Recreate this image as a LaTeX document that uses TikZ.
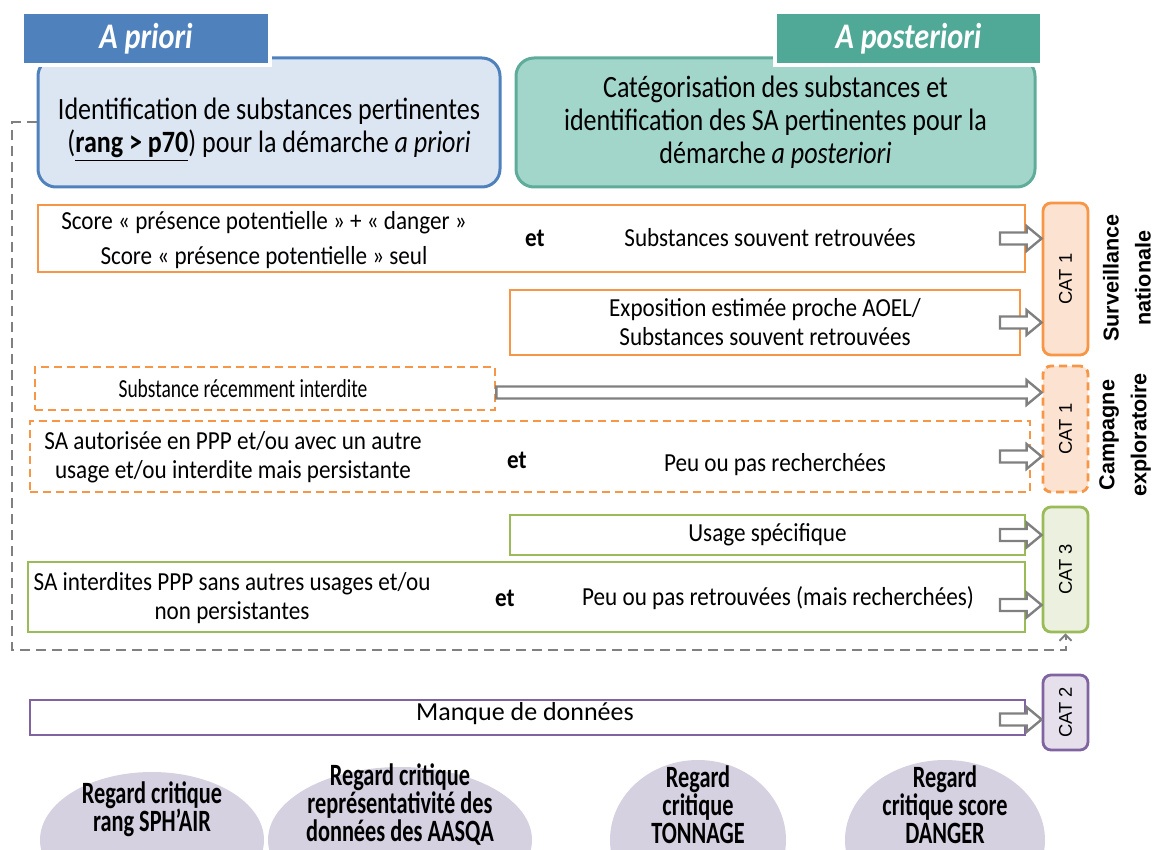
\documentclass[tikz,border=0pt]{standalone}
\usepackage{fontspec}
\setmainfont{Carlito}[FakeStretch=0.89]
\newfontfamily\tightfont{Carlito}[FakeStretch=0.75]
\newfontfamily\wideboxfont{Carlito}[FakeStretch=1.0]
\newfontfamily\headfont{Carlito}[FakeStretch=0.84]
\newfontfamily\ellfont{Carlito}[FakeStretch=0.72]
\newfontfamily\catfont{Liberation Sans}
\usetikzlibrary{arrows.meta,shapes.geometric,fit,shadows,calc,positioning}

\definecolor{hdblue}{RGB}{79,129,189}
\definecolor{boxblue}{RGB}{220,230,242}
\definecolor{hdteal}{RGB}{80,168,150}
\definecolor{boxteal}{RGB}{163,214,203}
\definecolor{edgeteal}{RGB}{95,172,155}
\definecolor{catorange}{RGB}{247,150,70}
\definecolor{fillorange}{RGB}{252,226,208}
\definecolor{catgreen}{RGB}{155,187,89}
\definecolor{fillgreen}{RGB}{235,241,222}
\definecolor{catpurple}{RGB}{128,100,162}
\definecolor{fillpurple}{RGB}{229,224,236}
\definecolor{arrowgray}{RGB}{128,128,128}
\definecolor{ellgray}{RGB}{214,209,225}

\begin{document}
\begin{tikzpicture}[x=0.5pt, y=-0.5pt,
  rowbox/.style={draw, line width=1.4pt, inner sep=0pt, fill=white},
  orangebox/.style={rowbox, draw=catorange},
  dashorange/.style={orangebox, dash pattern=on 4pt off 2.5pt},
  greenbox/.style={rowbox, draw=catgreen},
  purplebox/.style={rowbox, draw=catpurple},
  catbox/.style={line width=1.4pt, rounded corners=4pt, inner sep=0pt},
  cattext/.style={rotate=90, font=\catfont\fontsize{9.2}{10}\selectfont},
  sidetext/.style={rotate=90, align=center, font=\catfont\bfseries\fontsize{10.8}{16}\selectfont},
  rowtext/.style={align=center, font=\fontsize{13}{14.5}\selectfont},
  andtext/.style={font=\bfseries\fontsize{13}{14.5}\selectfont},
  headbox/.style={rounded corners=9pt, line width=1.5pt, inner sep=0pt},
  headtext/.style={align=center, font=\headfont\fontsize{15.5}{16.5}\selectfont},
  headtag/.style={draw=white, line width=2pt, inner sep=0pt,
    drop shadow={opacity=0.25, shadow xshift=1pt, shadow yshift=-1pt}},
  tagtext/.style={text=white, font=\headfont\bfseries\itshape\fontsize{18}{20}\selectfont},
  holarrow/.style={draw=arrowgray, fill=white, line width=1.2pt, line join=miter,
    to path={let \p1=(\tikztostart), \p2=(\tikztotarget) in
      (\x1,\y1+3pt) -- (\x2-7.5pt,\y1+3pt) -- (\x2-7.5pt,\y1+6.2pt) -- (\x2,\y1)
      -- (\x2-7.5pt,\y1-6.2pt) -- (\x2-7.5pt,\y1-3pt) -- (\x1,\y1-3pt) -- cycle}},
  dashline/.style={draw=arrowgray, line width=1pt, dash pattern=on 5pt off 3pt,
    -{Straight Barb[length=3pt,width=6pt]}},
  regard/.style={ellipse, fill=ellgray, inner sep=0pt},
  regardtext/.style={align=center, font=\ellfont\bfseries\fontsize{15.5}{14}\selectfont}]
\useasboundingbox (0,0) rectangle (1157,850);

% top boxes
\node[headbox, draw=hdblue, fill=boxblue, fit={(38,58) (500,187)}] (apriori) {};
\node[headtext] (aprioritext) at (269,130)
  {Identification de substances pertinentes\\(\underline{\textbf{rang > p70}}) pour la d\'emarche \textit{a priori}};
\node[headbox, draw=edgeteal, fill=boxteal, fit={(516,58) (1035,187)}] (aposteriori) {};
\node[headtext] (aposterioritext) at (775.5,122)
  {Cat\'egorisation des substances et\\identification des SA pertinentes pour la\\d\'emarche \textit{a posteriori}};
\node[headtag, fill=hdblue, fit={(22,12) (270,65)}] (aprioritag) {};
\node[tagtext] at (aprioritag) (aprioritagtext) {A priori};
\node[headtag, fill=hdteal, fit={(775,12) (1042,65)}] (aposterioritag) {};
\node[tagtext] at (aposterioritag) (aposterioritagtext) {A posteriori};

% CAT 1 surveillance
\node[orangebox, fit={(38,205) (1025,272)}] (r1) {};
\node[rowtext] (r1left) at (264,240) {Score « pr\'esence potentielle » + « danger »\\[3pt]Score « pr\'esence potentielle » seul};
\node[andtext] (r1et) at (535,238) {et};
\node[rowtext] (r1right) at (770,238) {Substances souvent retrouv\'ees};
\node[orangebox, fit={(510,290) (1020,355)}] (r2) {};
\node[rowtext] (r2text) at (r2) {Exposition estim\'ee proche AOEL/\\Substances souvent retrouv\'ees};
\node[catbox, draw=catorange, fill=fillorange, fit={(1043,203) (1088,355)}] (cat1a) {};
\node[cattext] (cat1atext) at (cat1a) {CAT 1};
\node[sidetext] (surv) at (1127,278) {Surveillance\\nationale};

% CAT 1 campagne
\node[dashorange, fit={(35,367) (495,410)}] (r3) {};
\node[rowtext, font=\tightfont\fontsize{13}{14.5}\selectfont] (r3text) at (243,389) {Substance r\'ecemment interdite};
\node[dashorange, fit={(30,421) (1030,492)}] (r4) {};
\node[rowtext] (r4left) at (233,457) {SA autoris\'ee en PPP et/ou avec un autre\\usage et/ou interdite mais persistante};
\node[andtext] (r4et) at (517,460) {et};
\node[rowtext] (r4right) at (775,465) {Peu ou pas recherch\'ees};
\node[catbox, draw=catorange, fill=fillorange, dash pattern=on 4pt off 2.5pt, fit={(1043,366) (1088,492)}] (cat1b) {};
\node[cattext] (cat1btext) at (cat1b) {CAT 1};
\node[sidetext] (camp) at (1125,435) {Campagne\\exploratoire};

% CAT 3
\node[greenbox, fit={(510,515) (1025,555)}] (r5) {};
\node[rowtext] (r5text) at (r5) {Usage sp\'ecifique};
\node[greenbox, fit={(28,562) (1025,632)}] (r6) {};
\node[rowtext] (r6left) at (232,598) {SA interdites PPP sans autres usages et/ou\\non persistantes};
\node[andtext] (r6et) at (505,598) {et};
\node[rowtext] (r6right) at (778,598) {Peu ou pas retrouv\'ees (mais recherch\'ees)};
\node[catbox, draw=catgreen, fill=fillgreen, fit={(1043,507) (1088,632)}] (cat3) {};
\node[cattext] (cat3text) at (cat3) {CAT 3};

% CAT 2
\node[purplebox, fit={(30,700) (1025,735)}] (r7) {};
\node[rowtext, font=\wideboxfont\fontsize{13}{14.5}\selectfont] (r7text) at (525,714) {Manque de donn\'ees};
\node[catbox, draw=catpurple, fill=fillpurple, fit={(1043,675) (1088,750)}] (cat2) {};
\node[cattext] (cat2text) at (cat2) {CAT 2};

% arrows
\draw[holarrow] (1000,0 |- r1.east) to (cat1a.west |- r1.east);
\draw[holarrow] (1000,0 |- r2.east) to (cat1a.west |- r2.east);
\draw[holarrow] ([yshift=-2pt]r3.east) to ([yshift=-2pt]cat1b.west |- r3.east);
\draw[holarrow] (1000,0 |- r4.east) to (cat1b.west |- r4.east);
\draw[holarrow] (1000,0 |- r5.east) to (cat3.west |- r5.east);
\draw[holarrow] ([yshift=-4pt]1000,0 |- r6.east) to ([yshift=-4pt]cat3.west |- r6.east);
\draw[holarrow] ([yshift=-1pt]1000,0 |- r7.east) to ([yshift=-1pt]cat2.west |- r7.east);

\coordinate (dashcorner) at (12,650);
\draw[dashline] (apriori.west) -- (dashcorner |- apriori.west) -- (dashcorner) -- (cat3.south |- dashcorner) -- (cat3.south);

% regards critiques
\begin{scope}
\clip (0,0) rectangle (1157,850);
\node[regard, minimum width=112pt, minimum height=68pt] (e1) at (152,840) {};
\node[regard, minimum width=132pt, minimum height=73pt] (e2) at (400,840) {};
\node[regard, minimum width=88pt, minimum height=80pt] (e3) at (698,840) {};
\node[regard, minimum width=100pt, minimum height=80pt] (e4) at (945,840) {};
\node[regardtext] (e1text) at (152,809) {Regard critique\\rang SPH’AIR};
\node[regardtext] (e2text) at (400,805) {Regard critique\\repr\'esentativit\'e des\\donn\'ees des AASQA};
\node[regardtext] (e3text) at (698,805) {Regard\\critique\\TONNAGE};
\node[regardtext] (e4text) at (945,805) {Regard\\critique score\\DANGER};
\end{scope}

\end{tikzpicture}
\end{document}
